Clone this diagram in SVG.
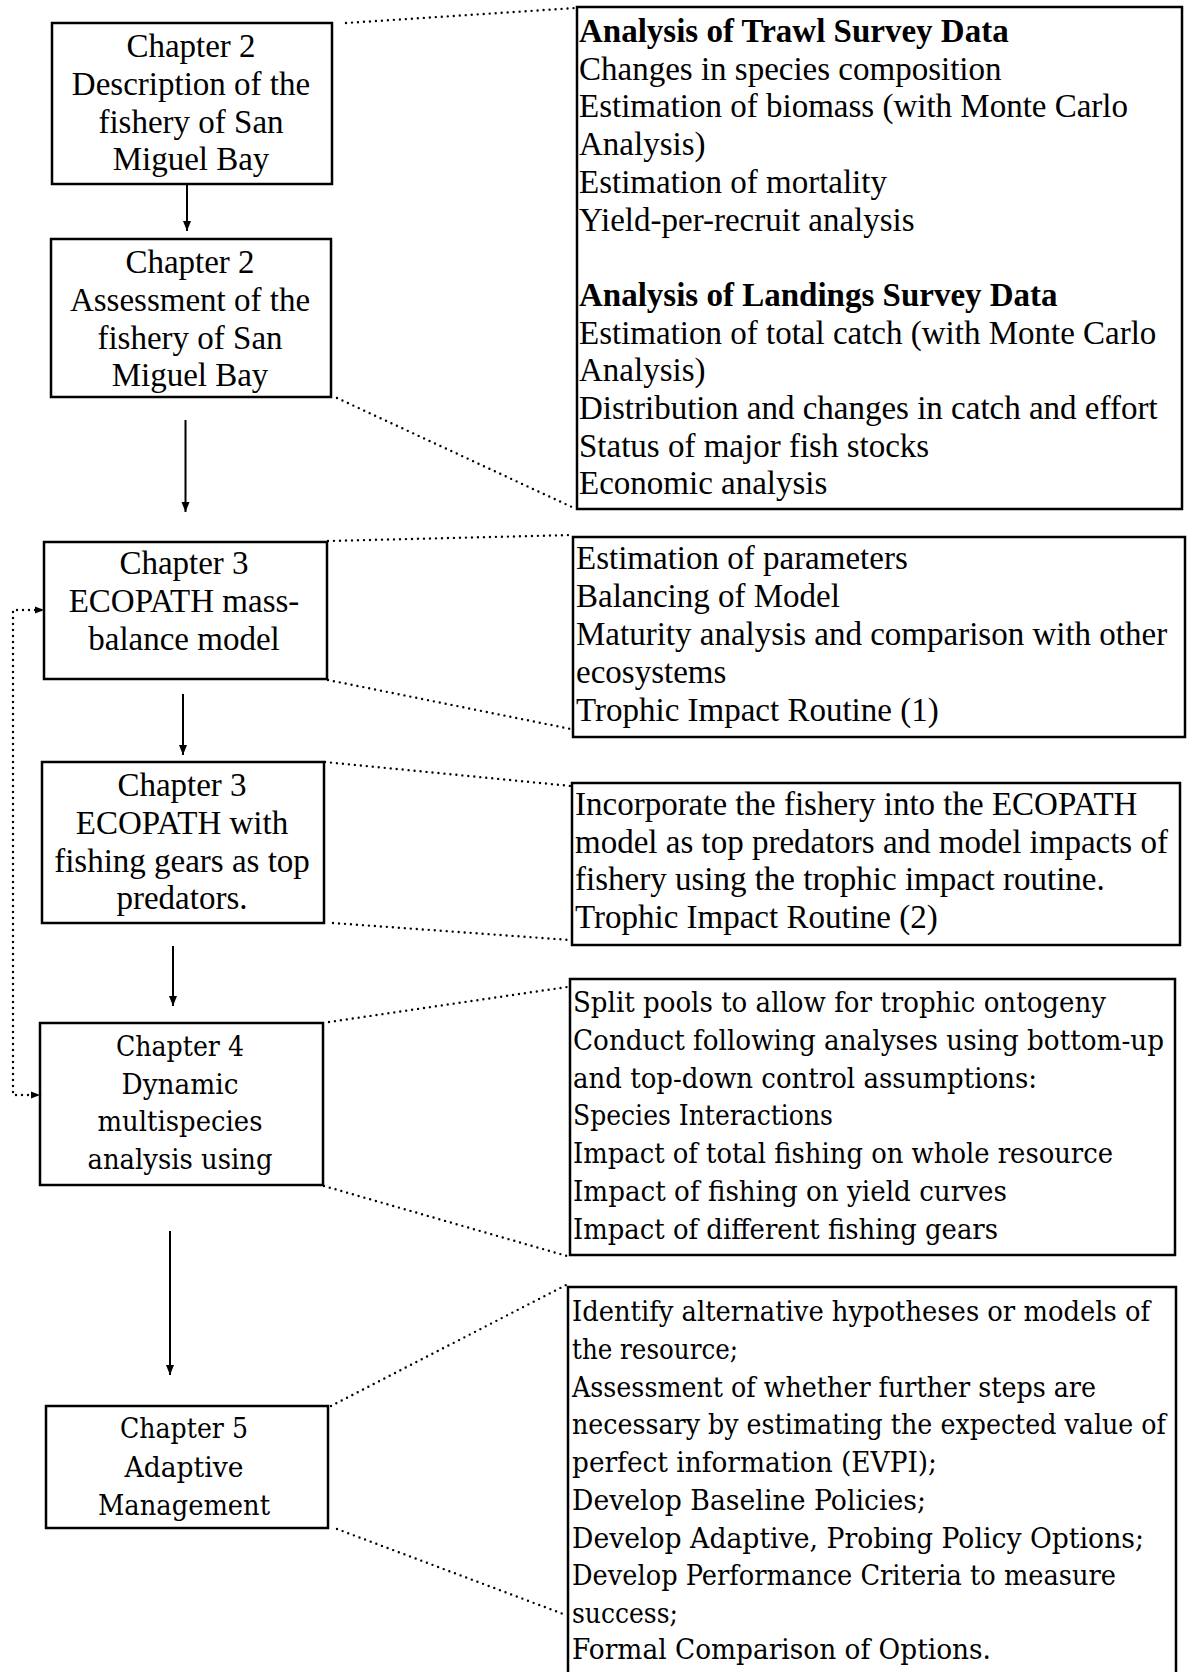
<svg xmlns="http://www.w3.org/2000/svg" width="1190" height="1672" viewBox="0 0 1190 1672">
<style>
.box{fill:none;stroke:#000;stroke-width:2.5}
.t{font-family:"Liberation Serif","Times New Roman",serif;font-size:33px;fill:#000}
.b{font-weight:bold}
.d{font-family:"DejaVu Serif","Liberation Serif",serif;font-size:27.5px;fill:#000}
.c{text-anchor:middle}
.dot{fill:none;stroke:#000;stroke-width:2.4;stroke-linecap:round;stroke-dasharray:0 6}
.arr{fill:none;stroke:#000;stroke-width:2}
</style>
<defs>
<marker id="ah" viewBox="0 0 10 10" refX="10" refY="5" markerWidth="10" markerHeight="10" markerUnits="userSpaceOnUse" orient="auto"><path d="M0,1 L10,5 L0,9 z" fill="#000"/></marker>
<marker id="ahd" viewBox="0 0 10 10" refX="10" refY="5" markerWidth="9" markerHeight="9" markerUnits="userSpaceOnUse" orient="auto-start-reverse"><path d="M0,1 L10,5 L0,9 z" fill="#000"/></marker>
</defs>
<rect width="1190" height="1672" fill="#fff"/>

<g id="connectors">
<line class="arr" x1="187" y1="184" x2="187" y2="231" marker-end="url(#ah)"/>
<line class="arr" x1="185.5" y1="420" x2="185.5" y2="512" marker-end="url(#ah)"/>
<line class="arr" x1="183" y1="694" x2="183" y2="755" marker-end="url(#ah)"/>
<line class="arr" x1="173" y1="946" x2="173" y2="1006" marker-end="url(#ah)"/>
<line class="arr" x1="170" y1="1231" x2="170" y2="1375" marker-end="url(#ah)"/>
<path class="dot" d="M40,1095 H13 V610 H44" marker-start="url(#ahd)" marker-end="url(#ahd)"/>
<line class="dot" x1="346" y1="23" x2="575" y2="8"/>
<line class="dot" x1="337" y1="398" x2="574" y2="508"/>
<line class="dot" x1="328" y1="541" x2="572" y2="535"/>
<line class="dot" x1="328" y1="680" x2="571" y2="729"/>
<line class="dot" x1="325" y1="762" x2="571" y2="786"/>
<line class="dot" x1="333" y1="923" x2="570" y2="940"/>
<line class="dot" x1="329" y1="1022" x2="567" y2="987"/>
<line class="dot" x1="324" y1="1186" x2="567" y2="1256"/>
<line class="dot" x1="331" y1="1406" x2="566" y2="1285"/>
<line class="dot" x1="337" y1="1529" x2="566" y2="1615"/>
</g>

<g id="ch2-description">
<rect class="box" x="52" y="23" width="280" height="161"/>
<text class="t c" x="191" y="57">Chapter 2</text>
<text class="t c" x="191" y="95">Description of the</text>
<text class="t c" x="191" y="133">fishery of San</text>
<text class="t c" x="191" y="170">Miguel Bay</text>
</g>

<g id="ch2-assessment">
<rect class="box" x="51" y="239" width="280" height="158"/>
<text class="t c" x="190" y="273">Chapter 2</text>
<text class="t c" x="190" y="311">Assessment of the</text>
<text class="t c" x="190" y="349">fishery of San</text>
<text class="t c" x="190" y="386">Miguel Bay</text>
</g>

<g id="ch3-ecopath">
<rect class="box" x="44" y="542" width="283" height="137"/>
<text class="t c" x="184" y="574">Chapter 3</text>
<text class="t c" x="184" y="612">ECOPATH mass-</text>
<text class="t c" x="184" y="650">balance model</text>
</g>

<g id="ch3-gears">
<rect class="box" x="42" y="762" width="282" height="161"/>
<text class="t c" x="182" y="796">Chapter 3</text>
<text class="t c" x="182" y="834">ECOPATH with</text>
<text class="t c" x="182" y="872">fishing gears as top</text>
<text class="t c" x="182" y="909">predators.</text>
</g>

<g id="ch4-dynamic">
<rect class="box" x="40" y="1023" width="283" height="162"/>
<text class="d c" x="180" y="1056" textLength="128" lengthAdjust="spacingAndGlyphs">Chapter 4</text>
<text class="d c" x="180" y="1094" textLength="117" lengthAdjust="spacingAndGlyphs">Dynamic</text>
<text class="d c" x="180" y="1131" textLength="165" lengthAdjust="spacingAndGlyphs">multispecies</text>
<text class="d c" x="180" y="1169" textLength="185" lengthAdjust="spacingAndGlyphs">analysis using</text>
</g>

<g id="ch5-adaptive">
<rect class="box" x="46" y="1406" width="282" height="122"/>
<text class="d c" x="184" y="1438" textLength="128" lengthAdjust="spacingAndGlyphs">Chapter 5</text>
<text class="d c" x="184" y="1477" textLength="119" lengthAdjust="spacingAndGlyphs">Adaptive</text>
<text class="d c" x="184" y="1515" textLength="172" lengthAdjust="spacingAndGlyphs">Management</text>
</g>

<g id="survey-analysis">
<rect class="box" x="577" y="7" width="605" height="502"/>
<text class="t b" x="579" y="42">Analysis of Trawl Survey Data</text>
<text class="t" x="579" y="80">Changes in species composition</text>
<text class="t" x="579" y="117">Estimation of biomass (with Monte Carlo</text>
<text class="t" x="579" y="155">Analysis)</text>
<text class="t" x="579" y="193">Estimation of mortality</text>
<text class="t" x="579" y="231">Yield-per-recruit analysis</text>
<text class="t b" x="579" y="306">Analysis of Landings Survey Data</text>
<text class="t" x="579" y="344">Estimation of total catch (with Monte Carlo</text>
<text class="t" x="579" y="381">Analysis)</text>
<text class="t" x="579" y="419">Distribution and changes in catch and effort</text>
<text class="t" x="579" y="457">Status of major fish stocks</text>
<text class="t" x="579" y="494">Economic analysis</text>
</g>

<g id="ecopath-tasks">
<rect class="box" x="573" y="537" width="612" height="200"/>
<text class="t" x="576" y="569">Estimation of parameters</text>
<text class="t" x="576" y="607">Balancing of Model</text>
<text class="t" x="576" y="645">Maturity analysis and comparison with other</text>
<text class="t" x="576" y="683">ecosystems</text>
<text class="t" x="576" y="721">Trophic Impact Routine (1)</text>
</g>

<g id="gears-tasks">
<rect class="box" x="572" y="783" width="608" height="162"/>
<text class="t" x="575" y="815">Incorporate the fishery into the ECOPATH</text>
<text class="t" x="575" y="853">model as top predators and model impacts of</text>
<text class="t" x="575" y="890">fishery using the trophic impact routine.</text>
<text class="t" x="575" y="928">Trophic Impact Routine (2)</text>
</g>

<g id="dynamic-tasks">
<rect class="box" x="570" y="979" width="605" height="276"/>
<text class="d" x="573" y="1012" textLength="533" lengthAdjust="spacingAndGlyphs">Split pools to allow for trophic ontogeny</text>
<text class="d" x="573" y="1050" textLength="591" lengthAdjust="spacingAndGlyphs">Conduct following analyses using bottom-up</text>
<text class="d" x="573" y="1088" textLength="464" lengthAdjust="spacingAndGlyphs">and top-down control assumptions:</text>
<text class="d" x="573" y="1125" textLength="260" lengthAdjust="spacingAndGlyphs">Species Interactions</text>
<text class="d" x="573" y="1163" textLength="540" lengthAdjust="spacingAndGlyphs">Impact of total fishing on whole resource</text>
<text class="d" x="573" y="1201" textLength="434" lengthAdjust="spacingAndGlyphs">Impact of fishing on yield curves</text>
<text class="d" x="573" y="1239" textLength="425" lengthAdjust="spacingAndGlyphs">Impact of different fishing gears</text>
</g>

<g id="adaptive-tasks">
<path class="box" d="M568,1672 V1287 H1176 V1672"/>
<text class="d" x="572" y="1321" textLength="578" lengthAdjust="spacingAndGlyphs">Identify alternative hypotheses or models of</text>
<text class="d" x="572" y="1359" textLength="166" lengthAdjust="spacingAndGlyphs">the resource;</text>
<text class="d" x="572" y="1397" textLength="524" lengthAdjust="spacingAndGlyphs">Assessment of whether further steps are</text>
<text class="d" x="572" y="1434" textLength="594" lengthAdjust="spacingAndGlyphs">necessary by estimating the expected value of</text>
<text class="d" x="572" y="1472" textLength="365" lengthAdjust="spacingAndGlyphs">perfect information (EVPI);</text>
<text class="d" x="572" y="1510" textLength="354" lengthAdjust="spacingAndGlyphs">Develop Baseline Policies;</text>
<text class="d" x="572" y="1548" textLength="572" lengthAdjust="spacingAndGlyphs">Develop Adaptive, Probing Policy Options;</text>
<text class="d" x="572" y="1585" textLength="544" lengthAdjust="spacingAndGlyphs">Develop Performance Criteria to measure</text>
<text class="d" x="572" y="1623" textLength="106" lengthAdjust="spacingAndGlyphs">success;</text>
<text class="d" x="572" y="1659" textLength="419" lengthAdjust="spacingAndGlyphs">Formal Comparison of Options.</text>
</g>
</svg>
